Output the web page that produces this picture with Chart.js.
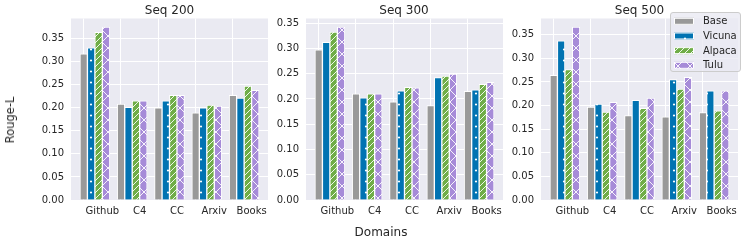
<!DOCTYPE html>
<html>
<head>
<meta charset="utf-8">
<script src="https://cdn.jsdelivr.net/npm/chart.js@4.4.0/dist/chart.umd.min.js"></script>
<style>
  body { margin: 0; background: #fff; }
  #fig { position: relative; width: 746px; height: 244px; overflow: hidden;
         font-family: 'DejaVu Sans', sans-serif; color: #262626; }
  #fig canvas { position: absolute; left: 0; top: 0; }
  .lbl { position: absolute; white-space: nowrap; transform: translate(-50%, -50%); }
</style>
</head>
<body>
<div id="fig">
  <canvas id="c0" width="746" height="244"></canvas>
  <canvas id="c1" width="746" height="244"></canvas>
  <canvas id="c2" width="746" height="244"></canvas>
  <div class="lbl" style="left:169.5px;top:10px;font-size:12px">Seq 200</div>
  <div class="lbl" style="left:404px;top:10px;font-size:12px">Seq 300</div>
  <div class="lbl" style="left:639.5px;top:10px;font-size:12px">Seq 500</div>
  <div class="lbl" style="left:10px;top:120px;font-size:11.5px;transform:translate(-50%,-50%) rotate(-90deg)">Rouge-L</div>
  <div class="lbl" style="left:381px;top:232px;font-size:12px">Domains</div>
</div>
<script>
const categories = ['Github', 'C4', 'CC', 'Arxiv', 'Books'];
const models = ['Base', 'Vicuna', 'Alpaca', 'Tulu'];

// Seq 200
const base200   = [0.317, 0.208, 0.200, 0.189, 0.227];
const vicuna200 = [0.330, 0.201, 0.215, 0.200, 0.221];
const alpaca200 = [0.364, 0.215, 0.227, 0.206, 0.247];
const tulu200   = [0.375, 0.215, 0.227, 0.204, 0.238];
// Seq 300
const base300   = [0.297, 0.210, 0.194, 0.187, 0.215];
const vicuna300 = [0.312, 0.202, 0.216, 0.242, 0.218];
const alpaca300 = [0.332, 0.210, 0.223, 0.245, 0.229];
const tulu300   = [0.342, 0.210, 0.222, 0.249, 0.233];
// Seq 500
const base500   = [0.264, 0.197, 0.179, 0.176, 0.185];
const vicuna500 = [0.337, 0.203, 0.211, 0.255, 0.231];
const alpaca500 = [0.276, 0.186, 0.194, 0.235, 0.189];
const tulu500   = [0.366, 0.207, 0.216, 0.260, 0.231];

const yTicks = [0, 0.05, 0.10, 0.15, 0.20, 0.25, 0.30, 0.35];

const panels = [
  [base200, vicuna200, alpaca200, tulu200],
  [base300, vicuna300, alpaca300, tulu300],
  [base500, vicuna500, alpaca500, tulu500]
];

const colors = ['#999999', '#0173b2', '#6fad47', '#a68bd8'];
const barShift = [-0.5, -0.3, -0.1, 0.1];   // bar centres relative to the tick
const plotLeft = [71, 306, 541];
const plotW = 197;
const font = { family: 'DejaVu Sans', size: 10 };

// hatch fills
function makeFill(k) {
  if (k === 0) return colors[0];
  const c = document.createElement('canvas');
  const s = k === 1 ? 11 : (k === 2 ? 6 : 12);
  c.width = s; c.height = s;
  const g = c.getContext('2d');
  g.fillStyle = colors[k];
  g.fillRect(0, 0, s, s);
  g.strokeStyle = '#ffffff';
  g.fillStyle = '#ffffff';
  g.lineWidth = 0.9;
  if (k === 1) {
    g.beginPath(); g.arc(3, 5.5, 1.1, 0, Math.PI * 2); g.fill();
  } else if (k === 2) {
    g.beginPath();
    g.moveTo(-1, s + 1); g.lineTo(s + 1, -1);
    g.moveTo(-1, 1); g.lineTo(1, -1);
    g.moveTo(s - 1, s + 1); g.lineTo(s + 1, s - 1);
    g.stroke();
  } else {
    g.beginPath();
    g.moveTo(0, 0); g.lineTo(s, s);
    g.moveTo(0, s); g.lineTo(s, 0);
    g.stroke();
  }
  return g.createPattern(c, 'repeat');
}
const fills = models.map((m, k) => makeFill(k));

const bgPlugin = {
  id: 'bg',
  beforeDraw(chart) {
    const a = chart.chartArea, ctx = chart.ctx;
    ctx.save();
    ctx.fillStyle = '#eaeaf2';
    ctx.fillRect(a.left, a.top, a.right - a.left, a.bottom - a.top);
    ctx.restore();
  }
};

const legendPlugin = {
  id: 'legendBox',
  afterDraw(chart) {
    const ctx = chart.ctx;
    ctx.save();
    ctx.beginPath();
    ctx.roundRect(670.5, 12.5, 70, 59, 2.5);
    ctx.fillStyle = 'rgba(234,234,242,0.8)';
    ctx.fill();
    ctx.strokeStyle = '#cccccc';
    ctx.lineWidth = 1;
    ctx.stroke();
    models.forEach((m, k) => {
      const y = 21.3 + k * 14.67;
      ctx.fillStyle = fills[k];
      ctx.fillRect(674, y - 3.5, 20, 7);
      ctx.strokeStyle = '#ffffff';
      ctx.strokeRect(674.5, y - 3, 19, 6);
      ctx.fillStyle = '#262626';
      ctx.font = '10px "DejaVu Sans"';
      ctx.textBaseline = 'middle';
      ctx.fillText(m, 703, y + 0.5);
    });
    ctx.restore();
  }
};

panels.forEach((series, p) => {
  const ymax = Math.max(...series.flat()) * 1.05;
  const left = plotLeft[p];
  new Chart(document.getElementById('c' + p), {
    type: 'bar',
    data: {
      datasets: series.map((vals, k) => ({
        label: models[k],
        data: vals.map((v, i) => ({ x: i + barShift[k], y: v })),
        backgroundColor: fills[k],
        borderColor: '#ffffff',
        borderWidth: 1,
        grouped: false,
        barPercentage: 1,
        categoryPercentage: 1
      }))
    },
    options: {
      responsive: false,
      animation: false,
      devicePixelRatio: 1,
      layout: { padding: { left: left - 40, right: 746 - (left + plotW), top: 18.5, bottom: 14 } },
      plugins: { legend: { display: false }, tooltip: { enabled: false } },
      scales: {
        x: {
          type: 'linear', min: -0.84, max: 4.44, offset: false,
          grid: { color: '#ffffff', lineWidth: 1, drawTicks: false },
          border: { display: false },
          afterBuildTicks: s => { s.ticks = categories.map((c, i) => ({ value: i })); },
          afterFit: s => { s.height = 30; s.paddingLeft = 0; s.paddingRight = 0; },
          ticks: { autoSkip: false, maxRotation: 0, padding: 5, color: '#262626', font,
                   callback: (v, i) => categories[i] }
        },
        y: {
          min: 0, max: ymax,
          grid: { color: '#ffffff', lineWidth: 1, drawTicks: false },
          border: { display: false },
          afterBuildTicks: s => { s.ticks = yTicks.map(v => ({ value: v })); },
          afterFit: s => { s.width = 40; s.paddingTop = 0; s.paddingBottom = 0; },
          ticks: { padding: 7, color: '#262626', font, callback: v => v.toFixed(2) }
        }
      }
    },
    plugins: p === 2 ? [bgPlugin, legendPlugin] : [bgPlugin]
  });
});
</script>
</body>
</html>
